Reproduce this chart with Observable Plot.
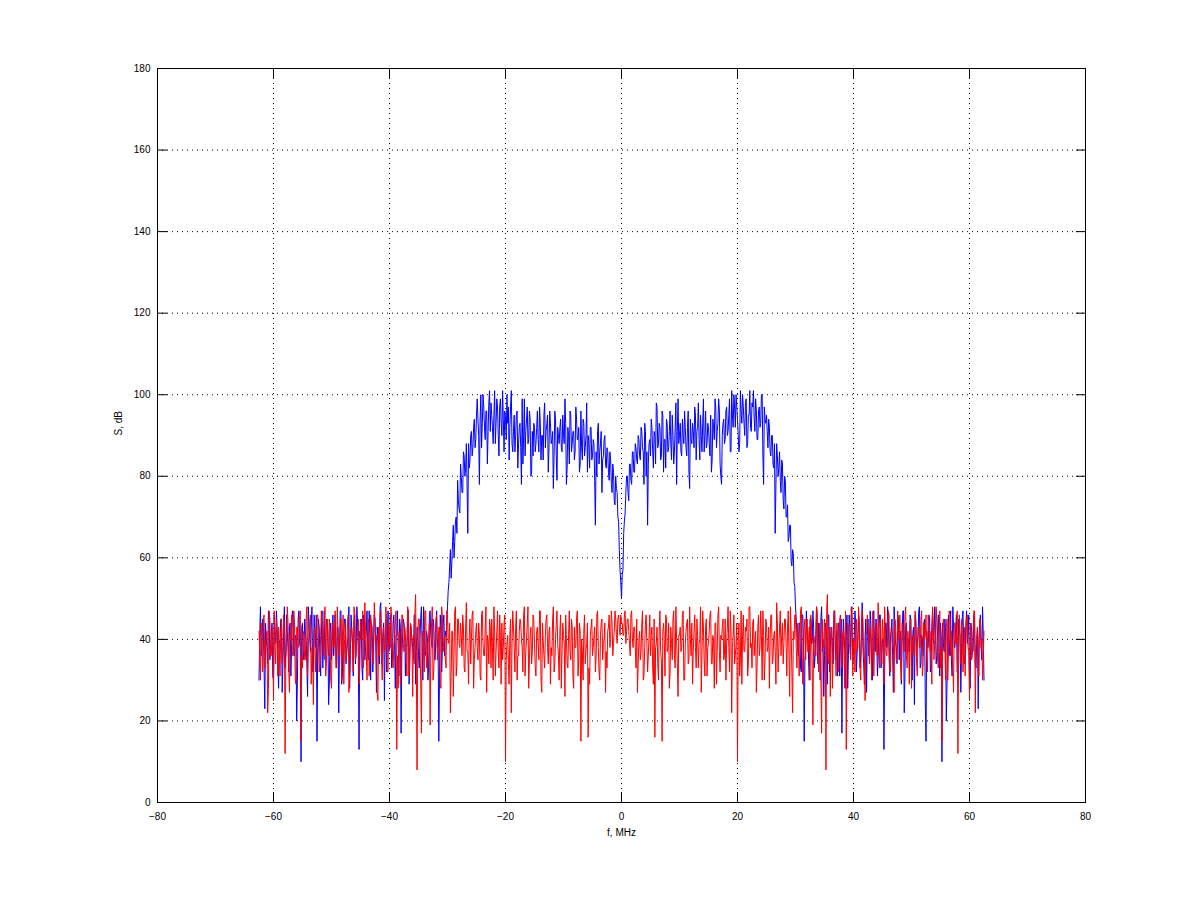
<!DOCTYPE html>
<html><head><meta charset="utf-8">
<script src="https://cdn.jsdelivr.net/npm/d3@7"></script>
<script src="https://cdn.jsdelivr.net/npm/@observablehq/plot@0.6"></script>
<style>html,body{margin:0;padding:0;background:#fff;} #chart{width:1200px;height:901px;}</style>
</head><body><div id="chart"></div>
<script>
// Frequency grid of the spectrum (MHz): main samples every 0.25 MHz,
// plus the in-between samples (offset by half a step) in the *MidDb arrays
const fStartMHz = -62.5;
const fStepMHz = 0.25;

// Blue spectrum, dB, main samples
const blueDb = [
30,
48,38,43,23,40,34,46,37,44,30,
41,47,35,39,45,27,42,33,46,38,
43,31,47,36,41,20,45,39,10,44,
37,42,34,48,40,43,32,46,38,15,
45,36,41,33,47,39,44,24,42,35,
46,40,37,43,22,47,29,41,45,34,
39,48,36,42,31,46,38,44,13,40,
33,46,35,42,37,47,30,43,39,45,
27,41,34,49,36,44,40,32,47,38,
43,35,46,28,41,37,45,17,40,44,
31,39,47,34,42,38,46,29,43,36,
40,48,30,44,37,41,33,47,39,45,
35,42,38,15,46,32,44,36,41,48,
54,62,59,68,64,70,79,72,83,76,
86,80,88,66,82,90,85,92,87,95,
94,78,100,93,97,89,96,91,101,98,
92,95,88,99,90,97,93,101,86,94,
100,97,92,101,86,95,90,96,88,93,
78,83,99,91,97,89,94,81,85,92,
88,96,86,93,90,84,98,91,95,87,
93,89,77,96,85,92,88,94,86,90,
99,78,92,83,95,88,91,86,94,89,
81,96,84,93,87,98,90,82,92,85,
88,68,80,93,86,91,84,89,83,87,
81,86,78,83,74,80,76,69,57,
50,57,69,76,80,74,83,78,86,81,
87,83,89,84,91,86,93,80,68,88,
85,92,82,90,98,87,93,84,96,81,
89,94,86,91,88,95,83,92,78,99,
90,86,94,88,92,85,96,77,89,93,
87,95,91,98,84,90,93,86,96,88,
92,85,81,94,89,97,91,99,83,78,
93,88,96,90,95,86,101,92,97,100,
94,86,101,93,97,90,99,88,95,92,
98,101,91,96,89,97,93,100,78,94,
95,87,92,85,90,82,66,88,80,86,
76,83,72,79,70,64,68,59,62,54,
48,41,36,44,32,46,15,38,42,35,
45,39,47,33,41,37,44,30,48,40,
36,43,29,46,38,42,34,47,39,31,
44,40,17,45,37,41,28,46,35,43,
38,47,32,40,44,36,49,34,41,27,
45,39,43,30,47,37,42,35,46,33,
40,13,44,38,46,31,42,36,48,39,
34,45,41,29,47,22,43,37,40,46,
35,42,24,44,39,47,33,41,36,45,
15,38,46,32,43,40,48,34,42,37,
44,10,39,45,20,41,36,47,31,43,
38,46,33,42,27,45,39,35,47,41,
30,44,37,46,34,40,23,43,38,48,
30
];

// Blue spectrum, dB, in-between samples
const blueMidDb = [
41,36,45,33,44,38,47,35,42,31,
46,39,43,28,40,45,34,48,37,42,
32,44,39,46,36,41,30,47,38,43,
35,45,40,26,44,37,48,33,41,46,
38,43,31,47,39,35,45,42,29,44,
40,36,46,33,43,38,47,31,42,45,
37,41,28,46,39,44,34,48,36,42,
45,30,43,38,47,35,41,44,32,46,
39,43,36,48,34,42,25,45,40,37,
46,33,44,39,41,47,31,43,36,45,
42,38,47,29,44,40,35,46,37,43,
33,45,39,48,36,42,30,46,41,38,
44,35,47,40,31,43,38,46,42,
44,52,58,55,64,60,69,66,74,71,80,76,85,82,78,88,84,91,87,94,89,
99,90,94,87,100,92,96,83,98,91,95,88,101,93,97,85,99,90,94,96,
89,93,84,97,88,91,86,95,82,92,87,99,90,85,94,88,96,80,91,93,
86,92,89,97,84,90,95,87,93,81,96,88,91,85,94,79,90,92,87,95,
88,93,82,90,96,86,91,84,97,89,92,83,87,94,85,90,81,88,92,84,
89,79,86,91,83,88,76,85,90,82,86,79,84,76,81,73,77,70,62,54,
56,66,71,80,76,83,79,86,81,88,84,90,85,92,87,78,91,86,83,89,
94,86,91,83,97,88,92,85,95,89,82,93,87,96,84,90,86,98,91,88,
93,85,90,96,87,92,81,94,88,91,97,84,92,89,95,86,99,90,87,93,
88,95,84,92,99,87,93,96,80,90,94,89,97,91,99,86,95,100,92,97,
90,88,96,100,93,98,87,95,101,91,97,94,99,89,96,92,100,85,97,93,
91,94,86,90,83,88,78,85,82,79,84,74,80,70,73,65,68,58,61,53,45,
38,44,33,46,40,35,47,42,30,45,
39,43,36,48,34,41,45,37,26,44,
40,46,32,43,38,47,35,42,44,31,
45,39,41,28,46,36,43,48,34,40,
44,37,46,33,42,38,29,45,41,36,
47,34,43,39,45,31,42,46,37,40,
33,44,48,36,41,45,27,43,38,46,
35,42,40,47,32,44,39,37,45,30,
43,46,36,41,48,34,40,44,25,42,
38,45,33,47,39,43,36,46,31,41,
44,37,42,29,46,40,35,48,38,43,
32,45,41,36,47,34,44,39,46,28,
42,37,45,33,43,40,46,35,41
];

// Red spectrum, dB, main samples
const redDb = [
42,
30,38,45,33,40,22,47,36,43,25,
38,45,31,37,42,34,46,12,39,44,
27,40,36,47,30,43,38,45,15,33,
41,35,48,39,44,29,37,42,32,46,
40,34,47,38,43,31,45,36,41,28,
44,39,33,48,37,42,30,46,40,35,
44,27,38,43,32,47,36,41,29,45,
40,33,49,37,42,31,46,39,34,44,
41,25,36,47,30,43,38,45,32,40,
48,35,39,44,13,28,42,33,46,37,
41,31,47,38,43,26,34,51,8,45,
39,17,42,32,47,36,40,19,44,30,
38,45,35,43,29,48,37,41,33,46,
40,22,42,26,47,31,45,39,44,36,
43,32,49,37,41,34,46,28,38,44,
35,41,30,47,36,43,27,40,45,33,
38,48,31,42,37,46,29,35,44,10,
39,34,41,22,47,38,43,30,36,45,
40,32,48,37,44,28,41,34,46,39,
31,43,35,47,27,40,33,45,38,42,
29,36,48,34,44,39,30,46,37,41,
26,40,33,47,35,43,28,38,45,31,
44,15,37,42,34,39,16,29,43,36,
41,32,46,38,30,44,35,40,27,33,
43,38,47,36,42,45,39,46,41,
44,41,46,39,45,42,36,47,38,43,
33,27,40,35,44,30,38,46,32,41,
36,43,29,16,39,34,42,37,15,44,
31,45,38,28,43,35,47,33,40,26,
41,37,46,30,39,44,34,48,36,29,
42,38,45,33,40,27,47,35,43,31,
39,46,34,41,28,44,37,48,32,40,
45,36,30,43,38,47,22,41,34,39,
10,44,35,29,46,37,42,31,48,38,
33,45,40,27,43,36,47,30,41,35,
44,38,28,46,34,41,37,49,32,43,
36,44,39,45,31,47,26,42,22,40,
46,33,41,37,48,29,43,35,45,38,
30,44,19,40,36,47,32,42,17,39,
45,8,51,34,26,43,38,47,31,41,
37,46,33,42,28,13,44,39,35,48,
40,32,45,38,43,30,47,36,25,41,
44,34,39,46,31,42,37,49,33,40,
45,29,41,36,47,32,43,38,27,44,
35,40,46,30,42,37,48,33,39,44,
28,41,36,45,31,43,38,47,34,40,
46,32,42,37,29,44,39,48,35,41,
33,15,45,38,43,30,47,36,40,27,
44,39,12,46,34,42,37,31,45,38,
25,43,36,47,22,40,33,45,38,30,
42
];

// Red spectrum, dB, in-between samples
const redMidDb = [
37,44,32,46,39,42,28,45,36,41,
47,34,40,43,31,45,38,42,35,48,
33,41,46,37,44,29,43,39,47,36,
42,35,45,31,40,46,38,24,43,37,
46,32,41,44,36,48,34,39,45,30,
43,38,47,33,42,36,45,40,29,44,
37,46,31,43,39,48,35,41,45,33,
40,47,36,42,30,45,38,44,34,49,
39,27,43,46,35,41,37,48,32,44,
38,45,33,40,47,36,42,29,46,39,
43,35,48,31,44,38,41,46,34,40,
45,30,42,37,47,33,39,44,36,48,
32,41,46,38,43,28,45,40,35,47,
39,44,31,42,36,48,34,45,38,41,
46,33,43,37,29,45,40,47,35,42,
38,44,31,46,39,36,48,41,34,43,
45,30,42,37,47,33,40,44,38,46,
35,41,29,45,39,43,32,47,36,42,
44,38,46,31,40,48,35,43,37,45,
33,42,39,47,30,44,36,41,46,34,
43,38,45,32,40,47,36,42,28,44,
39,46,34,41,37,45,31,43,38,47,
35,42,40,30,46,37,44,33,41,45,
38,43,36,47,32,41,45,39,44,37,
42,46,40,44,39,47,41,45,43,46,
44,41,47,42,45,39,46,40,43,38,
45,34,42,37,47,31,44,39,36,46,
41,33,45,38,43,30,47,35,42,40,
46,37,44,32,39,45,36,48,34,41,
43,38,47,30,42,45,35,40,44,37,
46,33,41,39,48,36,43,31,45,38,
42,47,34,40,44,29,46,37,41,43,
35,45,39,48,32,42,38,46,36,44,
40,31,47,41,37,43,45,34,48,39,
44,36,42,33,46,38,41,47,30,45,
37,43,40,46,35,42,29,44,38,47,
41,34,45,39,43,36,48,32,42,46,
38,44,31,47,40,35,45,42,37,43,
46,33,41,39,48,36,44,30,45,38,
42,47,35,43,40,28,46,37,44,32,
45,39,41,36,47,34,43,38,46,31,
40,44,37,48,33,42,45,35,41,46,
38,43,30,47,39,44,36,41,45,34,
42,48,37,40,46,32,43,38,45,35,
47,41,33,44,39,46,36,42,29,45,
40,37,47,34,43,38,45,31,44,41,
36,46,39,42,48,35,40,44,33,47,
38,43,41,30,45,37,46,42,34,44,
39,47,36,41,45,32,43,40,46,37,
44,35,42,47,38,43,31,45,40,36
];

const xTicks = [-80, -60, -40, -20, 0, 20, 40, 60, 80];
const yTicks = [0, 20, 40, 60, 80, 100, 120, 140, 160, 180];
const xLabel = "f, MHz";
const yLabel = "S, dB";

// Merge main and in-between samples into one table ordered by frequency
const rows = [];
blueDb.forEach((b, i) => {
  rows.push({f: fStartMHz + i * fStepMHz, blue: b, red: redDb[i]});
  if (i < blueMidDb.length) {
    rows.push({f: fStartMHz + (i + 0.5) * fStepMHz, blue: blueMidDb[i], red: redMidDb[i]});
  }
});

const gridStyle = {stroke: "black", strokeOpacity: 1, strokeWidth: 1, strokeDasharray: "1,4"};

const chart = Plot.plot({
  width: 1200,
  height: 901,
  marginLeft: 157,
  marginRight: 115,
  marginTop: 68,
  marginBottom: 99,
  style: {fontFamily: "'Liberation Sans', Arial, sans-serif", fontSize: "10px", background: "white", color: "black"},
  x: {domain: [-80, 80]},
  y: {domain: [0, 180]},
  marks: [
    Plot.gridX(xTicks, gridStyle),
    Plot.gridY(yTicks, gridStyle),
    Plot.line(rows, {x: "f", y: "blue", stroke: "#0000ff", strokeWidth: 1}),
    Plot.line(rows, {x: "f", y: "red", stroke: "#ff0000", strokeWidth: 1}),
    Plot.axisX(xTicks, {anchor: "bottom", tickSize: 0, tickPadding: 10, label: null}),
    Plot.axisX(xTicks, {anchor: "bottom", tickSize: -10, fill: "none", label: null}),
    Plot.axisX(xTicks, {anchor: "top", tickSize: -10, fill: "none", label: null}),
    Plot.axisY(yTicks, {anchor: "left", tickSize: 0, tickPadding: 7, label: null}),
    Plot.axisY(yTicks, {anchor: "left", tickSize: -10, fill: "none", label: null}),
    Plot.axisY(yTicks, {anchor: "right", tickSize: -10, fill: "none", label: null}),
    Plot.frame({stroke: "black"}),
    Plot.text([xLabel], {frameAnchor: "bottom", dy: 33, text: d => d, fill: "black"}),
    Plot.text([yLabel], {frameAnchor: "left", dx: -39, rotate: -90, text: d => d, fill: "black"})
  ]
});
document.getElementById("chart").appendChild(chart);
</script>
</body></html>
